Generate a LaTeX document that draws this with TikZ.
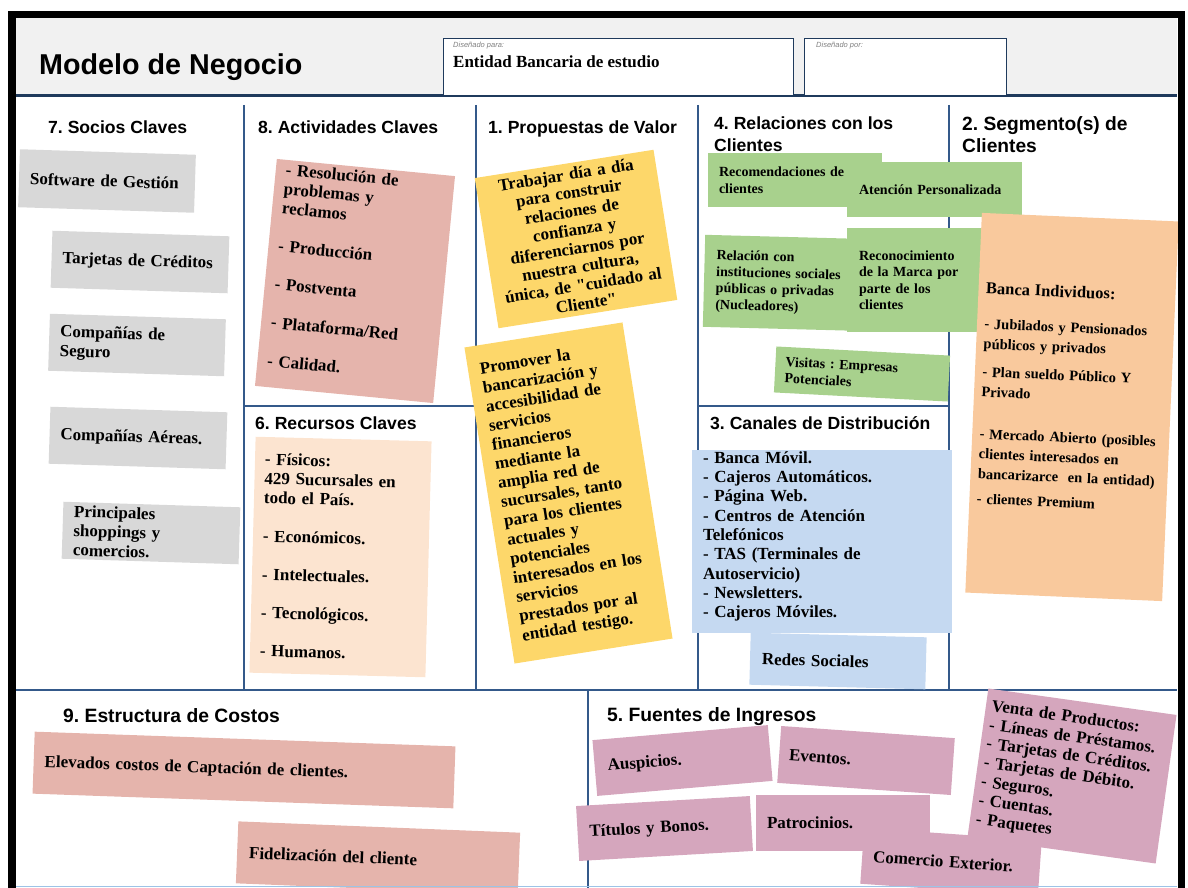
\documentclass[tikz,border=0pt]{standalone}
\usepackage{fontspec}
\setmainfont{Liberation Serif}
\newfontfamily\headfont{Liberation Sans}
\frenchspacing

\definecolor{gridblue}{HTML}{34598A}
\definecolor{headnavy}{HTML}{1F3A5C}
\definecolor{headgrey}{HTML}{F1F1F1}
\definecolor{frameblue}{HTML}{9DC3E6}
\definecolor{grisnota}{HTML}{D8D8D8}
\definecolor{rosanota}{HTML}{E5B4AC}
\definecolor{durazno}{HTML}{FCE4D0}
\definecolor{amarillo}{HTML}{FDD76A}
\definecolor{verde}{HTML}{A8D18D}
\definecolor{celeste}{HTML}{C5D9F1}
\definecolor{naranja}{HTML}{F9C99D}
\definecolor{malva}{HTML}{D5A6BD}

\tikzset{
    canvasline/.style={draw=gridblue, line width=2pt},
    blocktitle/.style={anchor=base west, inner sep=0pt, font=\headfont\bfseries\fontsize{17.6}{22}\selectfont},
    postit/.style={fill=#1, inner xsep=11pt, inner ysep=0pt, align=left, font=\bfseries\fontsize{17}{19.3}\selectfont},
    smallpostit/.style={postit=#1, font=\bfseries\fontsize{14}{16.5}\selectfont},
}

\begin{document}
\begin{tikzpicture}[x=1pt, y=-1pt]
        \useasboundingbox (0,0) rectangle (1188,888);
        \clip (0,0) rectangle (1188,888);

        % cabecera
        \fill[headgrey] (16,18) rectangle (1177,95);
        \draw[headnavy, line width=3pt] (16,96) -- (1177,96);
        \draw[headnavy, fill=white, line width=0.8pt] (443,38) rectangle (793,95);
        \draw[headnavy, fill=white, line width=0.8pt] (804,38) rectangle (1006,95);
        \node[anchor=base west, inner sep=0pt, font=\headfont\bfseries\fontsize{28.7}{30}\selectfont] (titulo) at (39,75) {Modelo de Negocio};
        \node[anchor=base west, inner sep=0pt, text=gray, font=\headfont\itshape\fontsize{7.5}{9}\selectfont] (paralabel) at (453,48) {Diseñado para:};
        \node[anchor=base west, inner sep=0pt, font=\bfseries\fontsize{17}{19}\selectfont] (entidad) at (453,67.5) {Entidad Bancaria de estudio};
        \node[anchor=base west, inner sep=0pt, text=gray, font=\headfont\itshape\fontsize{7.5}{9}\selectfont] (porlabel) at (816,48) {Diseñado por:};

        % lienzo
        \foreach \x in {244,476,698,949}
            \draw[canvasline] (\x,105) -- (\x,690);
        \draw[canvasline] (244,406) -- (476,406);
        \draw[canvasline] (698,406) -- (949,406);
        \draw[canvasline] (16,690) -- (1177,690);
        \draw[canvasline] (588,690) -- (588,888);

        \node[blocktitle] (sociostit) at (48,133) {7. Socios Claves};
        \node[blocktitle] (actividadestit) at (258,133) {8. Actividades Claves};
        \node[blocktitle] (propuestatit) at (488,133) {1. Propuestas de Valor};
        \node[blocktitle, anchor=north west, align=left] (relacionestit) at (714,116.3) {4. Relaciones con los\\Clientes};
        \node[blocktitle, anchor=north west, align=left, font=\headfont\bfseries\fontsize{19.2}{22.5}\selectfont] (segmentostit) at (962,116) {2. Segmento(s) de\\Clientes};
        \node[blocktitle] (recursostit) at (255,429.5) {6. Recursos Claves};
        \node[blocktitle] (canalestit) at (710,429.5) {3. Canales de Distribución};
        \node[blocktitle, font=\headfont\bfseries\fontsize{19.3}{23}\selectfont] (costostit) at (63,722) {9. Estructura de Costos};
        \node[blocktitle, font=\headfont\bfseries\fontsize{19.3}{23}\selectfont] (ingresostit) at (607,721) {5. Fuentes de Ingresos};

        % socios
        \node[postit=grisnota, text width=154pt, minimum height=58pt, rotate=-1.8] (software) at (107,181) {Software de Gestión};
        \node[postit=grisnota, text width=155pt, minimum height=57pt, rotate=-1.8] (tarjetas) at (140,262) {Tarjetas de Créditos};
        \node[postit=grisnota, text width=154pt, minimum height=57pt, rotate=-1.8] (seguros) at (137,345) {Compañías de\\Seguro};
        \node[postit=grisnota, text width=155pt, minimum height=57pt, rotate=-1.8] (aereas) at (138,438) {Compañías Aéreas.};
        \node[postit=grisnota, text width=155pt, minimum height=57pt, rotate=-1.8] (shoppings) at (151,533) {Principales\\shoppings y\\comercios.};

        % actividades y recursos
        \node[postit=rosanota, inner xsep=10pt, text width=159pt, minimum height=228pt, rotate=-5.5] (actividades) at (355,281)
            {- Resolución de\\problemas y\\reclamos\\[19pt]- Producción\\[19pt]- Postventa\\[19pt]- Plataforma/Red\\[19pt]- Calidad.\\[-2pt]\mbox{}};
        \node[postit=durazno, inner xsep=10pt, text width=156pt, minimum height=236pt, rotate=-1.5] (recursos) at (340.5,557)
            {- Físicos:\\429 Sucursales en\\todo el País.\\[19pt]- Económicos.\\[19pt]- Intelectuales.\\[19pt]- Tecnológicos.\\[19pt]- Humanos.};

        % propuestas
        \node[postit=amarillo, inner xsep=8pt, text width=165pt, minimum height=152pt, align=center, rotate=9, font=\bfseries\fontsize{17}{18.6}\selectfont] (propuesta) at (576,239)
            {Trabajar día a día\\para construir\\relaciones de\\confianza y\\diferenciarnos por\\nuestra cultura,\\única, de \textquotedbl cuidado al\\Cliente\textquotedbl};
        \node[postit=amarillo, inner xsep=12pt, text width=136pt, minimum height=320pt, rotate=9] (promover) at (568.5,493)
            {Promover la\\bancarización y\\accesibilidad de\\servicios\\financieros\\mediante la\\amplia red de\\sucursales, tanto\\para los clientes\\actuales y\\potenciales\\interesados en los\\servicios\\prestados por al\\entidad testigo.};

        % relaciones
        \node[smallpostit=verde, text width=152pt, minimum height=54pt] (recomendaciones) at (795,180) {Recomendaciones de\\clientes};
        \node[smallpostit=verde, inner xsep=12pt, text width=151pt, minimum height=55pt] (atencion) at (934.5,189.5) {Atención Personalizada};
        \node[smallpostit=verde, inner xsep=12pt, text width=144pt, minimum height=92pt, rotate=-1.5] (relacion) at (788,283)
            {Relación con\\instituciones sociales\\públicas o privadas\\(Nucleadores)};
        \node[smallpostit=verde, inner xsep=12pt, text width=150pt, minimum height=104pt] (reconocimiento) at (934,280)
            {Reconocimiento\\de la Marca por\\parte de los\\clientes};
        \node[smallpostit=verde, inner xsep=10pt, text width=154pt, minimum height=46pt, rotate=-3] (visitas) at (862,374) {Visitas : Empresas\\Potenciales};

        % canales
        \node[postit=celeste, text width=238pt, minimum height=183pt] (canales) at (822,541.5)
            {- Banca Móvil.\\- Cajeros Automáticos.\\- Página Web.\\- Centros de Atención\\Telefónicos\\- TAS (Terminales de\\Autoservicio)\\- Newsletters.\\- Cajeros Móviles.\\[-5.3pt]\mbox{}};
        \node[postit=celeste, inner xsep=12pt, text width=152pt, minimum height=52pt, rotate=-1.5] (redes) at (838,661) {Redes Sociales};

        % segmentos
        \node[postit=naranja, inner xsep=7.5pt, text width=182pt, minimum height=380pt, rotate=-2.5, font=\bfseries\fontsize{14.5}{20}\selectfont] (segmentos) at (1072,407)
            {{\fontsize{16.5}{20}\selectfont Banca Individuos:}\\[15pt]- Jubilados y Pensionados\\públicos y privados\\[8pt]- Plan sueldo Público Y\\Privado\\[22pt]- Mercado Abierto (posibles\\clientes interesados en\\bancarizarce\ \ en la entidad)\\[5pt]- clientes Premium\\\mbox{}};

        % costos
        \node[postit=rosanota, text width=399pt, minimum height=62pt, rotate=-2] (captacion) at (244,770) {Elevados costos de Captación de clientes.};
        \node[postit=rosanota, inner xsep=12pt, text width=258pt, minimum height=62pt, rotate=-2.3] (fidelizacion) at (378,858) {Fidelización del cliente};

        % ingresos
        \node[postit=malva, inner xsep=13pt, text width=150pt, minimum height=56pt, rotate=4.9] (auspicios) at (682.5,760.5) {Auspicios.};
        \node[postit=malva, inner xsep=10pt, text width=154pt, minimum height=57pt, rotate=-4] (eventos) at (866,760.5) {Eventos.};
        \node[postit=malva, inner xsep=12pt, text width=150pt, minimum height=55pt, rotate=3.3] (titulos) at (664.5,828.5) {Títulos y Bonos.};
        \node[postit=malva, text width=152pt, minimum height=56pt] (patrocinios) at (843,823) {Patrocinios.};
        \node[postit=malva, inner xsep=6pt, text width=178pt, minimum height=150pt, rotate=-8, font=\bfseries\fontsize{17}{19}\selectfont] (venta) at (1072,776)
            {Venta de Productos:\\- Líneas de Préstamos.\\- Tarjetas de Créditos.\\- Tarjetas de Débito.\\- Seguros.\\- Cuentas.\\- Paquetes};
        \node[postit=malva, text width=156pt, minimum height=56pt, rotate=-4] (comercio) at (951,862) {Comercio Exterior.};

        \draw[frameblue, line width=1.5pt] (16,886.5) -- (1177,886.5);
        \draw[black, line width=7.5pt] (12,900) -- (12,14.5) -- (1181.5,14.5) -- (1181.5,900);
\end{tikzpicture}
\end{document}
